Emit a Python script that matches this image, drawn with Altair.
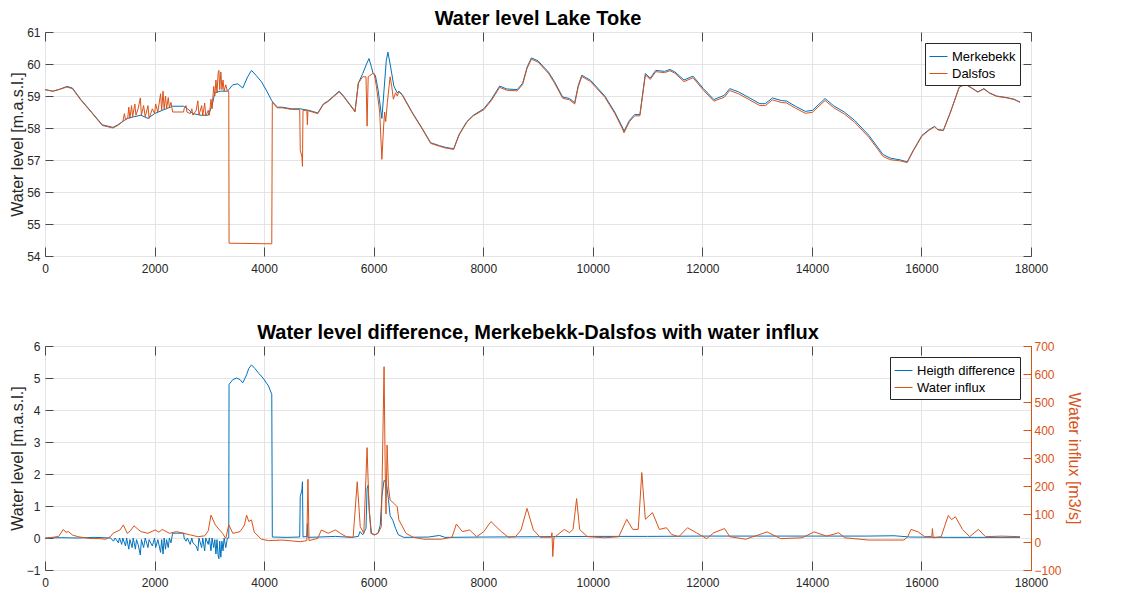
import altair as alt
import pandas as pd

# ---------------- data ----------------
merk_x = [0, 140, 250, 400, 500, 650, 850, 1045, 1240, 1330, 1500, 1620, 1750, 1880, 2000, 2140, 2330, 2530,
          2600, 2700, 2850, 2980, 3050, 3100, 3200, 3330, 3430, 3520, 3610, 3700, 3770, 3850, 3950, 4050, 4140,
          4240, 4330, 4500, 4660, 4820, 4980, 5080, 5170, 5370, 5450, 5560, 5660, 5720, 5800, 5870, 5915, 5960,
          5990, 6030, 6080, 6150, 6190, 6230, 6260, 6300, 6370, 6430, 6460, 6520, 6700, 6900, 7040, 7200, 7300,
          7460, 7560, 7700, 7820, 8010, 8150, 8300, 8430, 8620, 8720, 8800, 8880, 9000, 9190, 9300, 9450, 9575,
          9670, 9735, 9800, 9960, 10220, 10400, 10540, 10570, 10670, 10765, 10860, 10960, 11050, 11150, 11310,
          11410, 11500, 11665, 11830, 12020, 12210, 12400, 12500, 12660, 12850, 13050, 13150, 13280, 13440,
          13540, 13700, 13880, 14010, 14240, 14400, 14590, 14780, 15040, 15300, 15430, 15620, 15740, 15850,
          16010, 16140, 16240, 16300, 16400, 16530, 16690, 16800, 16920, 17030, 17140, 17240, 17370, 17560,
          17690, 17800]
merk_y = [59.2, 59.15, 59.2, 59.3, 59.25, 58.9, 58.5, 58.1, 58.02, 58.1, 58.3, 58.35, 58.4, 58.3, 58.45, 58.55,
          58.68, 58.68, 58.6, 58.45, 58.4, 58.4, 58.7, 59.1, 59.15, 59.15, 59.35, 59.38, 59.25, 59.6, 59.8, 59.65,
          59.45, 59.15, 58.85, 58.65, 58.65, 58.6, 58.6, 58.55, 58.47, 58.75, 58.85, 59.15, 59.0, 58.75, 58.53,
          59.4, 59.7, 60.0, 60.17, 59.9, 59.7, 59.65, 59.2, 58.3, 59.2, 60.1, 60.37, 60.0, 59.3, 59.1, 59.15,
          59.05, 58.5, 57.95, 57.54, 57.45, 57.4, 57.35, 57.8, 58.2, 58.4, 58.6, 58.9, 59.31, 59.22, 59.2, 59.4,
          59.9, 60.19, 60.1, 59.75, 59.45, 58.97, 58.92, 58.79, 59.33, 59.65, 59.49, 59.0, 58.5, 58.03, 57.9,
          58.24, 58.42, 58.42, 59.7, 59.56, 59.8, 59.77, 59.83, 59.75, 59.5, 59.62, 59.23, 58.89, 59.02, 59.23,
          59.13, 58.95, 58.76, 58.76, 58.94, 58.86, 58.84, 58.68, 58.52, 58.55, 58.92, 58.69, 58.5, 58.24,
          57.77, 57.17, 57.06, 57.0, 56.94, 57.3, 57.77, 57.95, 58.05, 57.95, 57.93, 58.5, 59.28, 59.38, 59.25,
          59.13, 59.23, 59.1, 59.0, 58.95, 58.9, 58.81]

dals_x = [0, 140, 250, 400, 500, 650, 850, 1045, 1240, 1330, 1420, 1450, 1470, 1510, 1530, 1550, 1580, 1600,
          1640, 1660, 1700, 1740, 1760, 1800, 1830, 1880, 1900, 1960, 2000, 2020, 2060, 2110, 2130, 2155, 2175,
          2200, 2220, 2250, 2270, 2300, 2330, 2530, 2540, 2575, 2590, 2650, 2680, 2700, 2760, 2790, 2810, 2860,
          2880, 2915, 2935, 2980, 3000, 3030, 3050, 3080, 3100, 3120, 3140, 3160, 3175, 3190, 3210, 3230, 3250,
          3270, 3300, 3330, 3355, 3360, 4140, 4150, 4240, 4330, 4500, 4650, 4660, 4690, 4700, 4710, 4780, 4790,
          4800, 4820, 4980, 5080, 5170, 5370, 5450, 5560, 5660, 5720, 5800, 5860, 5880, 5900, 5980, 6010, 6050,
          6110, 6150, 6180, 6200, 6220, 6250, 6300, 6330, 6360, 6400, 6430, 6460, 6520, 6700, 6900, 7040, 7200,
          7300, 7460, 7560, 7700, 7820, 8010, 8150, 8300, 8430, 8620, 8720, 8800, 8880, 9000, 9190, 9300, 9450,
          9575, 9670, 9735, 9800, 9960, 10220, 10400, 10540, 10570, 10670, 10765, 10860, 10960, 11050, 11150,
          11310, 11410, 11500, 11665, 11830, 12020, 12210, 12400, 12500, 12660, 12850, 13050, 13150, 13280,
          13440, 13540, 13700, 13880, 14010, 14240, 14400, 14590, 14780, 15040, 15300, 15430, 15620, 15740,
          15850, 16010, 16140, 16240, 16300, 16400, 16530, 16690, 16800, 16920, 17030, 17140, 17240, 17370,
          17560, 17690, 17800]
dals_y = [59.2, 59.15, 59.2, 59.28, 59.23, 58.88, 58.48, 58.08, 58.0, 58.08, 58.2, 58.45, 58.25, 58.3, 58.65,
          58.3, 58.7, 58.35, 58.75, 58.4, 58.6, 58.94, 58.4, 58.7, 58.35, 58.7, 58.3, 58.6, 58.45, 58.75, 58.5,
          59.07, 58.55, 59.15, 58.6, 59.0, 58.6, 58.95, 58.65, 58.8, 58.5, 58.5, 58.6, 58.7, 58.5, 58.45, 58.6,
          58.4, 58.55, 58.85, 58.4, 58.7, 58.38, 58.78, 58.38, 58.55, 58.4, 58.9, 58.6, 59.3, 59.0, 59.5, 59.1,
          59.7, 59.8, 59.2, 59.75, 59.2, 59.5, 59.15, 59.35, 59.15, 59.15, 54.4, 54.38, 58.8, 58.63, 58.63,
          58.58, 58.58, 57.3, 57.1, 56.8, 58.55, 58.55, 58.1, 58.55, 58.53, 58.45, 58.73, 58.83, 59.13, 58.98,
          58.73, 58.5, 59.4, 59.6, 59.6, 58.06, 59.6, 59.7, 59.7, 59.3, 58.5, 57.02, 58.0, 58.5, 58.2, 58.8,
          59.6, 59.3, 58.9, 59.1, 59.0, 59.13, 59.03, 58.48, 57.93, 57.52, 57.43, 57.38, 57.33, 57.78, 58.18,
          58.38, 58.57, 58.86, 59.27, 59.18, 59.16, 59.36, 59.86, 60.15, 60.06, 59.71, 59.41, 58.93, 58.88,
          58.75, 59.29, 59.61, 59.45, 58.96, 58.46, 57.98, 57.85, 58.2, 58.38, 58.38, 59.66, 59.52, 59.76,
          59.73, 59.79, 59.71, 59.45, 59.57, 59.18, 58.84, 58.96, 59.17, 59.07, 58.89, 58.7, 58.7, 58.88, 58.8,
          58.78, 58.62, 58.46, 58.49, 58.86, 58.63, 58.44, 58.18, 57.71, 57.11, 57.01, 56.97, 56.92, 57.28,
          57.75, 57.93, 58.04, 57.94, 57.92, 58.49, 59.27, 59.37, 59.24, 59.12, 59.22, 59.09, 58.99, 58.94,
          58.89, 58.8]

hdiff_x = [0, 300, 600, 900, 1200, 1250, 1280, 1340, 1360, 1400, 1420, 1470, 1490, 1530, 1550, 1590, 1610,
           1650, 1670, 1700, 1740, 1760, 1800, 1830, 1880, 1900, 1960, 2000, 2020, 2060, 2110, 2130, 2155, 2175,
           2200, 2220, 2250, 2270, 2300, 2330, 2530, 2540, 2575, 2600, 2650, 2680, 2700, 2760, 2790, 2810, 2860,
           2880, 2915, 2935, 2980, 3000, 3030, 3050, 3080, 3100, 3120, 3140, 3160, 3175, 3190, 3210, 3230, 3250,
           3270, 3300, 3330, 3355, 3360, 3430, 3500, 3560, 3610, 3680, 3720, 3770, 3830, 3900, 3980, 4080, 4140,
           4150, 4400, 4650, 4660, 4690, 4700, 4710, 4780, 4790, 4800, 5000, 5300, 5600, 5720, 5750, 5800, 5860,
           5880, 5900, 5920, 5960, 6020, 6080, 6120, 6150, 6190, 6230, 6270, 6300, 6350, 6400, 6450, 6550, 7000,
           7200, 7300, 8000, 9000, 10000, 11000, 12000, 13000, 14000, 15000, 15500, 15800, 16500, 17000, 17800]
hdiff_y = [0.0, 0.01, 0.0, 0.02, 0.0, -0.1, 0.0, -0.15, 0.0, -0.2, 0.0, -0.25, 0.0, -0.35, -0.05, -0.3, 0.0,
           -0.35, -0.05, -0.2, -0.53, -0.05, -0.3, 0.0, -0.3, -0.05, -0.25, 0.0, -0.3, -0.05, -0.45, -0.05,
           -0.5, 0.0, -0.35, -0.05, -0.3, 0.0, -0.15, 0.15, 0.15, 0.0, -0.1, 0.0, -0.2, 0.0, -0.15, -0.25, -0.4,
           0.0, -0.3, 0.0, -0.4, 0.0, -0.2, 0.0, -0.4, 0.0, -0.3, -0.05, -0.5, -0.05, -0.55, -0.65, -0.1, -0.6,
           -0.1, -0.4, 0.0, -0.3, 0.0, 0.0, 4.8, 4.95, 5.0, 4.95, 4.85, 5.1, 5.3, 5.41, 5.3, 5.15, 5.0, 4.75,
           4.49, 0.03, 0.02, 0.03, 1.3, 1.5, 1.76, 0.03, 0.05, 0.45, 0.02, 0.03, 0.05, 0.02, 0.05, 0.2, 0.1,
           0.3, 1.55, 1.65, 0.8, 0.15, 0.1, 0.15, 0.4, 1.3, 1.8, 1.75, 1.2, 0.7, 0.55, 0.3, 0.1, 0.02, 0.03,
           0.08, 0.02, 0.03, 0.04, 0.05, 0.05, 0.06, 0.06, 0.06, 0.06, 0.07, 0.03, 0.02, 0.02, 0.02]

influx_x = [0, 150, 250, 335, 380, 430, 500, 600, 800, 1000, 1110, 1200, 1240, 1370, 1430, 1500, 1560, 1625,
            1700, 1755, 1880, 2010, 2080, 2140, 2270, 2400, 2530, 2660, 2790, 2915, 2980, 3030, 3110, 3240,
            3300, 3355, 3430, 3560, 3640, 3680, 3720, 3770, 3820, 3950, 4080, 4330, 4500, 4660, 4780, 4800,
            4820, 4980, 5045, 5170, 5300, 5400, 5500, 5625, 5700, 5755, 5820, 5880, 5910, 5950, 6010, 6080,
            6140, 6190, 6210, 6225, 6245, 6270, 6300, 6370, 6430, 6460, 6590, 6720, 6915, 7240, 7430, 7510,
            7620, 7750, 7880, 8010, 8140, 8330, 8460, 8590, 8690, 8800, 8915, 9040, 9240, 9255, 9270, 9290,
            9480, 9575, 9640, 9705, 9760, 9900, 10220, 10475, 10620, 10730, 10830, 10895, 10960, 11090, 11215,
            11345, 11440, 11570, 11730, 11890, 12080, 12210, 12405, 12500, 12790, 13050, 13180, 13430, 13820,
            14040, 14270, 14490, 14600, 15040, 15680, 15750, 15810, 15940, 16060, 16190, 16200, 16215, 16360,
            16490, 16550, 16620, 16750, 16880, 17040, 17170, 17460, 17800]
influx_y = [13, 17, 20, 45, 35, 37, 25, 19, 13, 12, 10, 20, 31, 43, 61, 31, 40, 58, 45, 37, 31, 43, 35, 45, 31,
            37, 31, 25, 19, 22, 40, 96, 61, 31, 13, 61, 31, 37, 60, 96, 73, 79, 35, 10, 5, 7, 4, 1, 5, 224, 5,
            13, 43, 31, 43, 30, 19, 17, 215, 55, 31, 337, 150, 31, 25, 31, 55, 626, 269, 100, 346, 198, 150,
            138, 126, 79, 31, 17, 10, 10, 17, 64, 37, 43, 19, 37, 73, 37, 17, 19, 43, 120, 43, 17, 17, 33, -52,
            15, 45, 33, 45, 155, 45, 19, 15, 19, 81, 45, 45, 248, 81, 105, 45, 51, 27, 19, 51, 33, 12, 33, 48,
            19, 10, 27, 36, 12, 15, 36, 21, 33, 15, 7, 7, 19, 45, 36, 19, 20, 48, 15, 19, 95, 80, 90, 45, 19,
            45, 19, 21, 19]

x_ticks = [0, 2000, 4000, 6000, 8000, 10000, 12000, 14000, 16000, 18000]
top_y_ticks = [54, 55, 56, 57, 58, 59, 60, 61]
left_y_ticks = [-1, 0, 1, 2, 3, 4, 5, 6]
right_y_ticks = [-100, 0, 100, 200, 300, 400, 500, 600, 700]

top_series = ["Merkebekk", "Dalsfos"]
bottom_series = ["Heigth difference", "Water influx"]

# ---------------- styling ----------------
BLUE = "#0072BD"
ORANGE = "#D95319"
FONT = "Liberation Sans"
TXT = "#262626"
TICKC = "#4a4a4a"
GRID = "#e4e4e4"
W, H = 986, 224

top_df = pd.concat([
    pd.DataFrame({"x": merk_x, "y": merk_y, "series": top_series[0]}),
    pd.DataFrame({"x": dals_x, "y": dals_y, "series": top_series[1]}),
])
bot_h = pd.DataFrame({"x": hdiff_x, "y": hdiff_y, "series": bottom_series[0]})
bot_w = pd.DataFrame({"x": influx_x, "y": influx_y, "series": bottom_series[1]})

xs = alt.Scale(domain=[0, 18000], nice=False, zero=False)
ys_top = alt.Scale(domain=[54, 61], nice=False, zero=False)
ys_left = alt.Scale(domain=[-1, 6], nice=False, zero=False)
ys_right = alt.Scale(domain=[-100, 700], nice=False, zero=False)


def main_x():
    return alt.Axis(values=x_ticks, tickSize=0, domain=False, grid=True, gridColor=GRID,
                    labelFontSize=12, labelFont=FONT, labelColor=TXT, labelPadding=7,
                    labelFlush=False, title=None, format="d")


def main_y(values):
    return alt.Axis(values=values, tickSize=0, domain=False, grid=True, gridColor=GRID,
                    labelFontSize=12, labelFont=FONT, labelColor=TXT, labelPadding=5,
                    title="Water level [m.a.s.l.]", titleFontSize=16, titleFont=FONT,
                    titleFontWeight="normal", titleColor=TXT, titlePadding=1)


def tick_axis(values, orient, offset, color=TICKC, size=9):
    return alt.Axis(values=values, orient=orient, offset=offset, labels=False, domain=False,
                    grid=False, ticks=True, tickSize=size, tickColor=color, tickWidth=1, title=None)


def leg():
    return alt.Legend(orient="top-right", offset=11, title=None, labelFontSize=13,
                      labelFont=FONT, labelColor="black", symbolType="stroke", symbolSize=324,
                      symbolStrokeWidth=1, strokeColor=TXT, fillColor="white", padding=4,
                      labelOffset=4, rowPadding=0)


def panel_title(text):
    return alt.TitleParams(text, fontSize=20, fontWeight="bold", font=FONT, color="black",
                           anchor="middle", frame="group", offset=-3)


# ---------------- top panel ----------------
ctop = alt.Color("series:N", scale=alt.Scale(domain=top_series, range=[BLUE, ORANGE]), legend=leg())

merk_line = alt.Chart(top_df).transform_filter(alt.datum.series == top_series[0]).mark_line(
    strokeWidth=1).encode(
    x=alt.X("x:Q", scale=xs, axis=main_x()),
    y=alt.Y("y:Q", scale=ys_top, axis=main_y(top_y_ticks)),
    color=ctop)
dals_line = alt.Chart(top_df).transform_filter(alt.datum.series == top_series[1]).mark_line(
    strokeWidth=1).encode(
    x=alt.X("x:Q", scale=xs, axis=tick_axis(x_ticks, "top", -H)),
    y=alt.Y("y:Q", scale=ys_top, axis=tick_axis(top_y_ticks, "right", -W, size=8)),
    color=ctop)
top_dummy = alt.Chart(top_df.iloc[:1]).mark_point(opacity=0).encode(
    x=alt.X("x:Q", scale=xs, axis=tick_axis(x_ticks, "bottom", -H)),
    y=alt.Y("y:Q", scale=ys_top, axis=tick_axis(top_y_ticks, "left", -W, size=8)))

top = alt.layer(merk_line, dals_line, top_dummy).resolve_scale(x="independent", y="independent").properties(
    width=W, height=H, title=panel_title("Water level Lake Toke"))

# ---------------- bottom panel ----------------
cbot = alt.Color("series:N", scale=alt.Scale(domain=bottom_series, range=[BLUE, ORANGE]), legend=leg())

h_line = alt.Chart(bot_h).mark_line(strokeWidth=1).encode(
    x=alt.X("x:Q", scale=xs, axis=main_x()),
    y=alt.Y("y:Q", scale=ys_left, axis=main_y(left_y_ticks)),
    color=cbot)
w_line = alt.Chart(bot_w).mark_line(strokeWidth=1).encode(
    x=alt.X("x:Q", scale=xs, axis=tick_axis(x_ticks, "top", -H)),
    y=alt.Y("y:Q", scale=ys_right, axis=alt.Axis(values=right_y_ticks, orient="right", tickSize=0,
                                                  domain=True, domainColor=ORANGE, grid=False,
                                                  labelFontSize=12, labelFont=FONT, labelColor=ORANGE,
                                                  labelPadding=3, title="Water influx [m3/s]",
                                                  titleFontSize=16, titleFont=FONT, titleFontWeight="normal",
                                                  titleColor=ORANGE, titlePadding=4)),
    color=cbot)
bot_dummy1 = alt.Chart(bot_h.iloc[:1]).mark_point(opacity=0).encode(
    x=alt.X("x:Q", scale=xs, axis=tick_axis(x_ticks, "bottom", -H)),
    y=alt.Y("y:Q", scale=ys_left, axis=tick_axis(left_y_ticks, "right", -W, size=8)))
bot_dummy2 = alt.Chart(bot_w.iloc[:1]).mark_point(opacity=0).encode(
    x=alt.X("x:Q", scale=xs, axis=None),
    y=alt.Y("y:Q", scale=ys_right, axis=tick_axis(right_y_ticks, "left", -W, color=ORANGE, size=8)))

bottom = alt.layer(h_line, w_line, bot_dummy1, bot_dummy2).resolve_scale(
    x="independent", y="independent").properties(
    width=W, height=H,
    title=panel_title("Water level difference, Merkebekk-Dalsfos with water influx"))

chart = alt.vconcat(top, bottom, spacing=47).resolve_scale(color="independent").properties(
    padding={"left": 0, "top": 0, "right": 2, "bottom": 2},
    background="white",
).configure_view(stroke="#5e5e5e", strokeWidth=1)

chart.save("out.html", embed_options={"renderer": "svg", "actions": False})
